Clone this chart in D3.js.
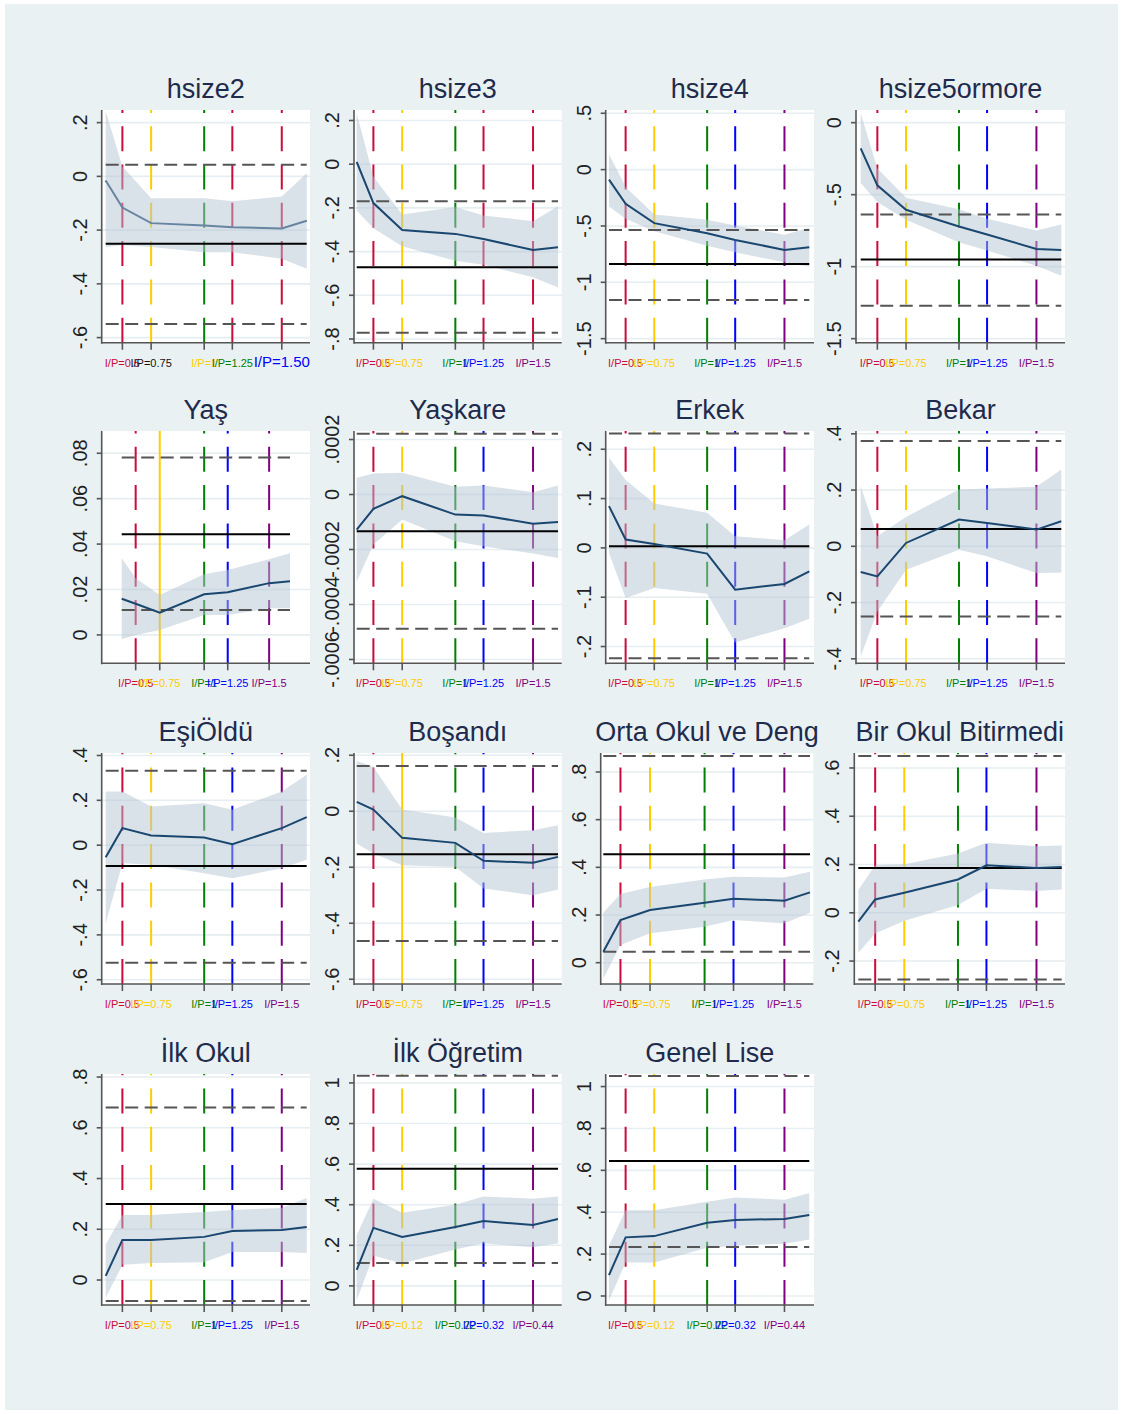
<!DOCTYPE html>
<html>
<head>
<meta charset="utf-8">
<script src="https://cdn.jsdelivr.net/npm/d3@7"></script>
<style>
body { margin: 0; background: #fff; }
svg { display: block; font-family: "Liberation Sans", Arial, sans-serif; }
</style>
</head>
<body>
<div id="chart"></div>
<script>
// panel titles
var titles = ["hsize2", "hsize3", "hsize4", "hsize5ormore",
  "Yaş", "Yaşkare", "Erkek", "Bekar",
  "EşiÖldü", "Boşandı", "Orta Okul ve Deng", "Bir Okul Bitirmedi",
  "İlk Okul", "İlk Öğretim", "Genel Lise"];

// x position of the 7 estimation points (share of the x range)
var xPos = [0, 0.083, 0.226, 0.49, 0.63, 0.876, 1];

var yTicks = [
  [-0.6, -0.4, -0.2, 0, 0.2],
  [-0.8, -0.6, -0.4, -0.2, 0, 0.2],
  [-1.5, -1, -0.5, 0, 0.5],
  [-1.5, -1, -0.5, 0],
  [0, 0.02, 0.04, 0.06, 0.08],
  [-0.0006, -0.0004, -0.0002, 0, 0.0002],
  [-0.2, -0.1, 0, 0.1, 0.2],
  [-0.4, -0.2, 0, 0.2, 0.4],
  [-0.6, -0.4, -0.2, 0, 0.2, 0.4],
  [-0.6, -0.4, -0.2, 0, 0.2],
  [0, 0.2, 0.4, 0.6, 0.8],
  [-0.2, 0, 0.2, 0.4, 0.6],
  [0, 0.2, 0.4, 0.6, 0.8],
  [0, 0.2, 0.4, 0.6, 0.8, 1],
  [0, 0.2, 0.4, 0.6, 0.8, 1]
];

// value at bottom / top of each plot region
var yDomain = [
  [-0.619, 0.247], [-0.817, 0.248], [-1.536, 0.529], [-1.528, 0.088],
  [-0.0125, 0.0898], [-0.000614, 0.000231], [-0.234, 0.237], [-0.416, 0.41],
  [-0.619, 0.411], [-0.617, 0.208], [-0.0894, 0.8796], [-0.295, 0.662],
  [-0.0985, 0.812], [-0.094, 1.044], [-0.043, 1.06]
];

var fitted = [
  [-0.015, -0.116, -0.174, -0.183, -0.189, -0.194, -0.165],
  [0.011, -0.178, -0.301, -0.319, -0.342, -0.393, -0.380],
  [-0.089, -0.303, -0.475, -0.565, -0.624, -0.713, -0.689],
  [-0.179, -0.435, -0.605, -0.721, -0.777, -0.877, -0.884],
  [0.0159, 0.0137, 0.0098, 0.0179, 0.0188, 0.0228, 0.0236],
  [-0.000128, -0.0000523, -0.0000061, -0.000073, -0.0000766, -0.000106, -0.0000997],
  [0.0847, 0.0169, 0.0081, -0.0115, -0.0847, -0.0732, -0.0475],
  [-0.0915, -0.107, 0.0119, 0.0951, 0.0832, 0.0594, 0.0892],
  [-0.0536, 0.0759, 0.0432, 0.0342, 0.0045, 0.0759, 0.125],
  [0.0333, 0.0059, -0.0951, -0.1129, -0.1771, -0.1843, -0.1629],
  [0.046, 0.179, 0.221, 0.251, 0.268, 0.26, 0.295],
  [-0.037, 0.055, 0.083, 0.138, 0.197, 0.186, 0.19],
  [0.016, 0.158, 0.158, 0.17, 0.193, 0.197, 0.209],
  [0.079, 0.286, 0.241, 0.29, 0.32, 0.3, 0.33],
  [0.1, 0.28, 0.286, 0.35, 0.363, 0.368, 0.387]
];

var upper = [
  [0.242, 0.037, -0.081, -0.081, -0.093, -0.075, 0.012],
  [0.233, -0.058, -0.230, -0.196, -0.235, -0.261, -0.193],
  [0.137, -0.155, -0.398, -0.446, -0.496, -0.577, -0.517],
  [0.065, -0.319, -0.521, -0.602, -0.667, -0.749, -0.707],
  [0.0338, 0.025, 0.0176, 0.0267, 0.0286, 0.0333, 0.036],
  [0.0000608, 0.0000766, 0.000079, 0.000028, 0.0000328, 0.0000085, 0.0000328],
  [0.183, 0.1376, 0.090, 0.0712, 0.0237, 0.0156, 0.0475],
  [0.214, 0.0357, 0.1046, 0.202, 0.2057, 0.2116, 0.2734],
  [0.2396, 0.2396, 0.1726, 0.1875, 0.1577, 0.2396, 0.314],
  [0.1795, 0.1581, 0.0059, -0.0226, -0.0773, -0.0678, -0.0499],
  [0.209, 0.288, 0.318, 0.349, 0.36, 0.357, 0.381],
  [0.094, 0.197, 0.201, 0.246, 0.29, 0.276, 0.279],
  [0.14, 0.256, 0.256, 0.268, 0.276, 0.284, 0.323],
  [0.25, 0.43, 0.36, 0.4, 0.44, 0.43, 0.44],
  [0.24, 0.41, 0.41, 0.45, 0.47, 0.46, 0.49]
];

var lower = [
  [-0.263, -0.255, -0.263, -0.282, -0.282, -0.307, -0.344],
  [-0.212, -0.293, -0.376, -0.442, -0.460, -0.518, -0.564],
  [-0.327, -0.437, -0.547, -0.675, -0.734, -0.823, -0.862],
  [-0.419, -0.551, -0.674, -0.830, -0.888, -0.993, -1.063],
  [-0.0019, 0, 0.0022, 0.0088, 0.0088, 0.0117, 0.0117],
  [-0.000316, -0.000182, -0.0000912, -0.00017, -0.000188, -0.000215, -0.000231],
  [-0.0102, -0.1017, -0.0814, -0.0929, -0.1919, -0.1627, -0.1437],
  [-0.392, -0.2318, -0.0832, -0.0119, -0.0357, -0.0951, -0.0927],
  [-0.348, -0.0804, -0.0878, -0.125, -0.1473, -0.1027, -0.0655],
  [-0.1153, -0.151, -0.1926, -0.1985, -0.2758, -0.2996, -0.2793],
  [-0.066, 0.074, 0.123, 0.151, 0.179, 0.165, 0.209],
  [-0.166, -0.086, -0.033, 0.032, 0.1, 0.09, 0.097],
  [-0.07, 0.06, 0.067, 0.07, 0.11, 0.11, 0.106],
  [-0.07, 0.15, 0.11, 0.18, 0.21, 0.19, 0.21],
  [-0.02, 0.16, 0.16, 0.23, 0.24, 0.25, 0.27]
];

var meanLine = [-0.251, -0.472, -0.838, -0.951, 0.0443, -0.000134, 0.0034, 0.0618,
  -0.0923, -0.1533, 0.455, 0.186, 0.3, 0.577, 0.645];
var dashHigh = [0.043, -0.170, -0.535, -0.637, 0.0781, 0.000221, 0.2319, 0.3744,
  0.332, 0.1617, 0.867, 0.65, 0.68, 1.035, 1.05];
var dashLow = [-0.549, -0.771, -1.156, -1.272, 0.0110, -0.000488, -0.2237, -0.2496,
  -0.524, -0.4636, 0.046, -0.276, -0.083, 0.113, 0.234];

var labelsStd = ["I/P=0.5", "I/P=0.75", "I/P=1", "I/P=1.25", "I/P=1.5"];
var labelsFirst = ["I/P=0.5", "I/P=0.75", "I/P=1", "I/P=1.25", "I/P=1.50"];
var labelsLow = ["I/P=0.5", "I/P=0.12", "I/P=0.22", "I/P=0.32", "I/P=0.44"];

// colours
var C = { red: "#cc0a3c", gold: "#ffcc00", green: "#008000", blue: "#0000ff", purple: "#800080" };
var vColStd = [C.red, C.gold, C.green, C.blue, C.purple];
var vColRed = [C.red, C.gold, C.green, C.red, C.red];
var labColFirst = [C.red, "#111", C.gold, C.green, C.blue];

// layout
var colL = [101.7, 354, 605.7, 856];
var colR = [310, 561.7, 814, 1065];
var padL = [4, 2.7, 3.3, 4.7];
var padR = [3.3, 3.7, 4.7, 3.7];
var rowTop = [110, 431, 753, 1074];
var rowBot = [342.7, 663.3, 984, 1305];

var W = 1123, H = 1414;
var svg = d3.select("#chart").append("svg")
  .attr("width", W).attr("height", H);

svg.append("rect").attr("x", 5).attr("y", 4).attr("width", 1113).attr("height", 1406)
  .attr("fill", "#eaf1f3");

function fmt(v) {
  var s = String(+v.toFixed(6));
  return s.replace(/^(-?)0\./, "$1.");
}

titles.forEach(function(title, i) {
  var col = i % 4, row = Math.floor(i / 4);
  var L = colL[col], R = colR[col], T = rowTop[row], B = rowBot[row];
  var ds = L + padL[col], de = R - padR[col];
  if (i == 4) { ds = L + 20; de = R - 20; }
  if (i == 10) { L = 600.7; R = 813.3; ds = 603.3; de = 810; }
  if (i == 11) { L = 854.3; ds = 858.3; de = 1061.7; }

  var x = d3.scaleLinear().domain([0, 1]).range([ds, de]);
  var y = d3.scaleLinear().domain(yDomain[i]).range([B, T]);

  var g = svg.append("g");

  g.append("rect").attr("x", L).attr("y", T).attr("width", R - L).attr("height", B - T)
    .attr("fill", "#fff");

  // grid
  g.selectAll(".grid").data(yTicks[i]).enter().append("line")
    .attr("x1", L).attr("x2", R)
    .attr("y1", function(d) { return y(d); }).attr("y2", function(d) { return y(d); })
    .attr("stroke", "#e6eef1").attr("stroke-width", 1.6);

  // vertical I/P lines
  var vcol = (i < 2) ? vColRed : vColStd;
  var vx = xPos.slice(1, 6);
  g.selectAll(".vline").data(vx).enter().append("line")
    .attr("x1", function(d) { return x(d); }).attr("x2", function(d) { return x(d); })
    .attr("y1", B).attr("y2", T)
    .attr("stroke", function(d, k) { return vcol[k]; })
    .attr("stroke-width", 2)
    .attr("stroke-dasharray", function(d, k) {
      return ((i == 4 || i == 9) && k == 1) ? null : "25,13.3";
    });

  var pts = xPos.map(function(p, k) { return { x: p, f: fitted[i][k], lo: lower[i][k], hi: upper[i][k] }; });
  var line = d3.line().x(function(d) { return x(d.x); }).y(function(d) { return y(d.f); });
  var area = d3.area().x(function(d) { return x(d.x); })
    .y0(function(d) { return y(d.lo); }).y1(function(d) { return y(d.hi); });

  function drawFit() {
    g.append("path").datum(pts).attr("d", line)
      .attr("fill", "none").attr("stroke", "#1a476f").attr("stroke-width", 2);
  }
  if (i == 0) drawFit();

  g.append("path").datum(pts).attr("d", area)
    .attr("fill", "#b4c3d3").attr("fill-opacity", 0.5);

  [dashHigh[i], dashLow[i]].forEach(function(v) {
    g.append("line").attr("x1", ds).attr("x2", de).attr("y1", y(v)).attr("y2", y(v))
      .attr("stroke", "#555").attr("stroke-width", 2).attr("stroke-dasharray", "13,6.5");
  });
  g.append("line").attr("x1", ds).attr("x2", de).attr("y1", y(meanLine[i])).attr("y2", y(meanLine[i]))
    .attr("stroke", "#000").attr("stroke-width", 2);

  if (i != 0) drawFit();

  // y axis
  g.append("line").attr("x1", L).attr("x2", L).attr("y1", T).attr("y2", B + 1)
    .attr("stroke", "#555").attr("stroke-width", 1.6);
  g.selectAll(".ytick").data(yTicks[i]).enter().append("line")
    .attr("x1", L - 5).attr("x2", L)
    .attr("y1", function(d) { return y(d); }).attr("y2", function(d) { return y(d); })
    .attr("stroke", "#555").attr("stroke-width", 1.6);
  g.selectAll(".ylab").data(yTicks[i]).enter().append("text")
    .attr("transform", function(d) { return "translate(" + (L - 15) + "," + y(d) + ") rotate(-90)"; })
    .attr("text-anchor", "middle")
    .attr("font-size", 20).attr("fill", "#222")
    .text(fmt);

  // x axis
  g.append("line").attr("x1", L).attr("x2", R).attr("y1", B).attr("y2", B)
    .attr("stroke", "#555").attr("stroke-width", 1.6);
  g.selectAll(".xtick").data(vx).enter().append("line")
    .attr("x1", function(d) { return x(d); }).attr("x2", function(d) { return x(d); })
    .attr("y1", B).attr("y2", B + 7)
    .attr("stroke", "#555").attr("stroke-width", 1.6);

  var labs = (i == 0) ? labelsFirst : (i == 13 || i == 14) ? labelsLow : labelsStd;
  var lcol = (i == 0) ? labColFirst : vColStd;
  g.selectAll(".xlab").data(vx).enter().append("text")
    .attr("x", function(d) { return x(d); })
    .attr("y", B + 24)
    .attr("text-anchor", "middle")
    .attr("font-size", function(d, k) { return (i == 0 && k == 4) ? 15 : 11; })
    .attr("fill", function(d, k) { return lcol[k]; })
    .text(function(d, k) { return labs[k]; });

  // title
  g.append("text").attr("x", (L + R) / 2).attr("y", T - 12)
    .attr("text-anchor", "middle").attr("font-size", 27).attr("fill", "#1e2b4d")
    .text(title);
});
</script>
</body>
</html>
